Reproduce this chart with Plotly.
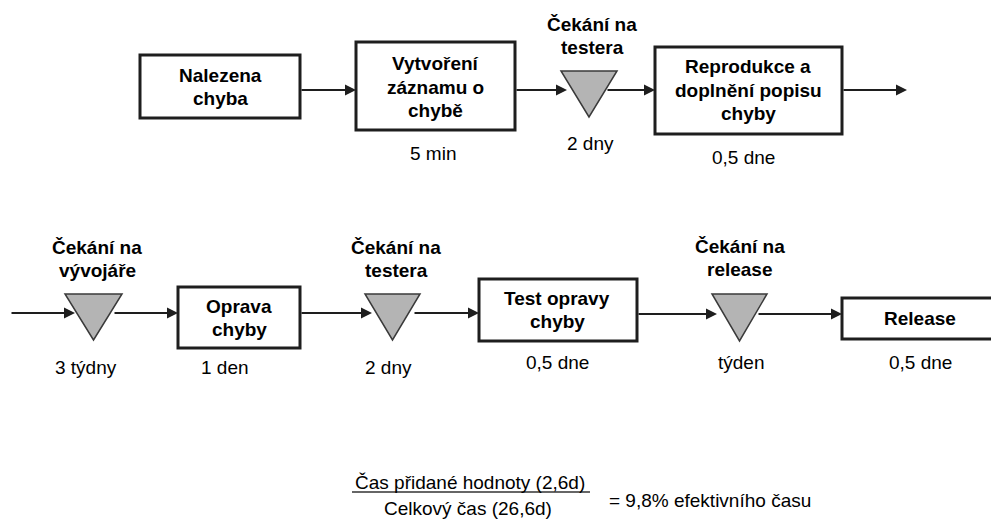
import plotly.graph_objects as go

# ---------------- data ----------------
step_labels = [
    "Nalezena<br>chyba",
    "Vytvoření<br>záznamu o<br>chybě",
    "Čekání na<br>testera",
    "Reprodukce a<br>doplnění popisu<br>chyby",
    "Čekání na<br>vývojáře",
    "Oprava<br>chyby",
    "Čekání na<br>testera",
    "Test opravy<br>chyby",
    "Čekání na<br>release",
    "Release",
]
step_types = ["proces", "proces", "čekání", "proces", "čekání",
              "proces", "čekání", "proces", "čekání", "proces"]
step_durations = ["", "5 min", "2 dny", "0,5 dne", "3 týdny",
                  "1 den", "2 dny", "0,5 dne", "týden", "0,5 dne"]
value_added_days = "2,6d"
total_days = "26,6d"
efficiency = "9,8%"

# ---------------- geometry (pixel layout) ----------------
geom = [
    dict(box=(140, 300, 55, 118), lab=(220, 87), dur=None),
    dict(box=(356, 515, 42, 130), lab=(435, 87), dur=(433, 153)),
    dict(box=(561, 617, 71, 117), lab=(592, 36), dur=(590, 143)),
    dict(box=(655, 842, 47, 134), lab=(748, 90), dur=(743, 157)),
    dict(box=(65, 122, 294, 340), lab=(97, 259), dur=(86, 367)),
    dict(box=(178, 300, 287, 348), lab=(239, 318), dur=(225, 367)),
    dict(box=(365, 420, 294, 340), lab=(396, 259), dur=(388, 367)),
    dict(box=(479, 637, 279, 341), lab=(557, 310), dur=(557, 362)),
    dict(box=(712, 767, 294, 341), lab=(740, 258), dur=(741, 362)),
    dict(box=(842, 1000, 298, 339), lab=(920, 318), dur=(920, 362)),
]
arrows = [  # (x_start, x_end, y)
    (300, 356, 90), (515, 567, 90), (606, 655, 90), (842, 907, 90),
    (10, 75, 313), (113, 178, 313), (300, 372, 313), (413, 479, 313),
    (637, 717, 314), (757, 842, 314),
]
LINE_H = 23.5

FONT = "Liberation Sans, Arial, sans-serif"
FS = 19
LINE = "#1e1e1e"

fig = go.Figure()
fig.add_trace(go.Scatter(x=[0, 991], y=[0, 519], mode="markers",
                         marker=dict(opacity=0), hoverinfo="skip", showlegend=False))

shapes = []
annos = []
for lab, typ, dur, g in zip(step_labels, step_types, step_durations, geom):
    x0, x1, y0, y1 = g["box"]
    if typ == "proces":
        shapes.append(dict(type="rect", xref="x", yref="y", x0=x0, x1=x1, y0=y0, y1=y1,
                           line=dict(color=LINE, width=3), fillcolor="white"))
    else:
        xm = (x0 + x1) / 2
        shapes.append(dict(type="path", xref="x", yref="y",
                           path=f"M {x0},{y0} L {x1},{y0} L {xm},{y1} Z",
                           line=dict(color="#3a3a3a", width=1.5), fillcolor="#b4b4b4"))
    lines = lab.split("<br>")
    n = len(lines)
    for i, ln in enumerate(lines):
        annos.append(dict(x=g["lab"][0], y=g["lab"][1] + (i - (n - 1) / 2) * LINE_H,
                          xref="x", yref="y", text=f"<b>{ln}</b>", showarrow=False,
                          font=dict(family=FONT, size=FS, color="black"),
                          xanchor="center", yanchor="middle"))
    if dur and g["dur"]:
        annos.append(dict(x=g["dur"][0], y=g["dur"][1], xref="x", yref="y",
                          text=dur, showarrow=False,
                          font=dict(family=FONT, size=FS, color="black"),
                          xanchor="center", yanchor="middle"))

for xs, xe, y in arrows:
    annos.append(dict(x=xe, y=y, ax=xs, ay=y, xref="x", yref="y", axref="x", ayref="y",
                      text="", showarrow=True, arrowhead=2, arrowsize=1.1,
                      arrowwidth=2, arrowcolor=LINE, standoff=0, startstandoff=0))

# efficiency formula
annos.append(dict(x=470, y=482, xref="x", yref="y", showarrow=False,
                  text=f"Čas přidané hodnoty ({value_added_days})",
                  font=dict(family=FONT, size=FS, color="black")))
annos.append(dict(x=468, y=508, xref="x", yref="y", showarrow=False,
                  text=f"Celkový čas ({total_days})",
                  font=dict(family=FONT, size=FS, color="black")))
annos.append(dict(x=607, y=500, xref="x", yref="y", showarrow=False, xanchor="left",
                  text=f"= {efficiency} efektivního času",
                  font=dict(family=FONT, size=FS, color="black")))
shapes.append(dict(type="line", xref="x", yref="y", x0=352, x1=590, y0=492, y1=492,
                   line=dict(color="#333", width=1.5)))

fig.update_layout(
    width=991, height=519,
    margin=dict(l=0, r=0, t=0, b=0),
    paper_bgcolor="white", plot_bgcolor="white",
    xaxis=dict(range=[0, 991], visible=False, fixedrange=True),
    yaxis=dict(range=[519, 0], visible=False, fixedrange=True),
    shapes=shapes, annotations=annos, showlegend=False,
)
fig.write_html("out.html", config=dict(displayModeBar=False),
               post_script="document.body.style.margin='0';document.body.style.overflow='hidden';")
